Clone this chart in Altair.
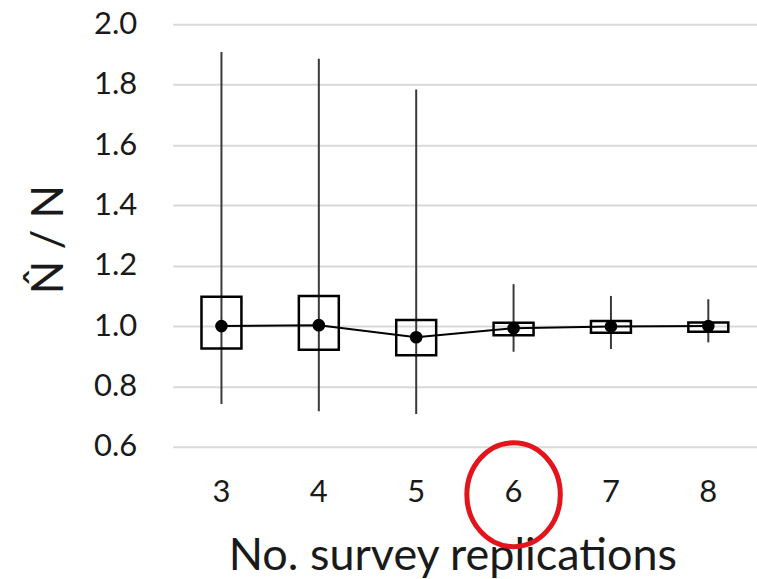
import altair as alt
import pandas as pd

reps = ["3", "4", "5", "6", "7", "8"]
median = [1.000, 1.003, 0.963, 0.993, 0.999, 1.000]
q_low = [0.926, 0.922, 0.903, 0.970, 0.978, 0.981]
q_high = [1.097, 1.100, 1.020, 1.011, 1.017, 1.012]
w_low = [0.742, 0.718, 0.709, 0.915, 0.924, 0.946]
w_high = [1.908, 1.886, 1.784, 1.139, 1.100, 1.089]

df = pd.DataFrame({"rep": reps, "med": median, "ql": q_low, "qh": q_high,
                   "wl": w_low, "wh": w_high})
highlight = pd.DataFrame({"rep": ["6"]})

FONT = "Lato"
xs = alt.X("rep:O", sort=reps, scale=alt.Scale(paddingInner=0, paddingOuter=0),
           axis=alt.Axis(title="No. survey replications", labelAngle=0,
                         domain=False, ticks=False, labelFontSize=31,
                         labelPadding=31, titleFontSize=45, titleFontWeight="normal",
                         titleX=280, titleY=123, titleBaseline="alphabetic",
                         titleAnchor="middle"))
ys = alt.Y("wl:Q", scale=alt.Scale(domain=[0.6, 2.0], nice=False, zero=False),
           axis=alt.Axis(title="N\u0302 / N", values=[0.6, 0.8, 1.0, 1.2, 1.4, 1.6, 1.8, 2.0],
                         format=".1f", domain=False, ticks=False, labelFontSize=31,
                         labelPadding=36, grid=True, gridColor="#d9d9d9", gridWidth=2,
                         titleFontSize=44, titleFontWeight="normal", titleAngle=-90,
                         titleX=-110, titleY=215, titleBaseline="alphabetic",
                         titleAlign="center"))

base = alt.Chart(df)
whisk = base.mark_rule(color="#3a3a3a", strokeWidth=2).encode(x=xs, y=ys, y2="wh:Q")
box = base.mark_bar(size=40, fill="white", fillOpacity=0, stroke="black", strokeWidth=2.5).encode(
    x=alt.X("rep:O", sort=reps), y=alt.Y("ql:Q"), y2="qh:Q")
line = base.mark_line(color="black", strokeWidth=2).encode(x=alt.X("rep:O", sort=reps), y=alt.Y("med:Q"))
dots = base.mark_point(filled=True, color="black", size=160, opacity=1).encode(
    x=alt.X("rep:O", sort=reps), y=alt.Y("med:Q"))
ring = alt.Chart(highlight).mark_point(
    shape="M-0.9,0A0.9,1,0,1,1,0.9,0A0.9,1,0,1,1,-0.9,0Z",
    filled=False, stroke="#e3141b", strokeWidth=5, size=104 * 104, opacity=1).encode(
    x=alt.X("rep:O", sort=reps), y=alt.value(471))

chart = alt.layer(whisk, box, line, dots, ring).properties(
    width=585, height=423,
    autosize=alt.AutoSizeParams(type="none"),
    padding={"left": 173, "top": 24, "right": 0, "bottom": 132},
).configure_view(stroke=None).configure_axis(
    labelFont=FONT, titleFont=FONT, labelColor="#1a1a1a", titleColor="#1a1a1a"
)

chart.save("out.html", embed_options={"renderer": "svg", "actions": False})
